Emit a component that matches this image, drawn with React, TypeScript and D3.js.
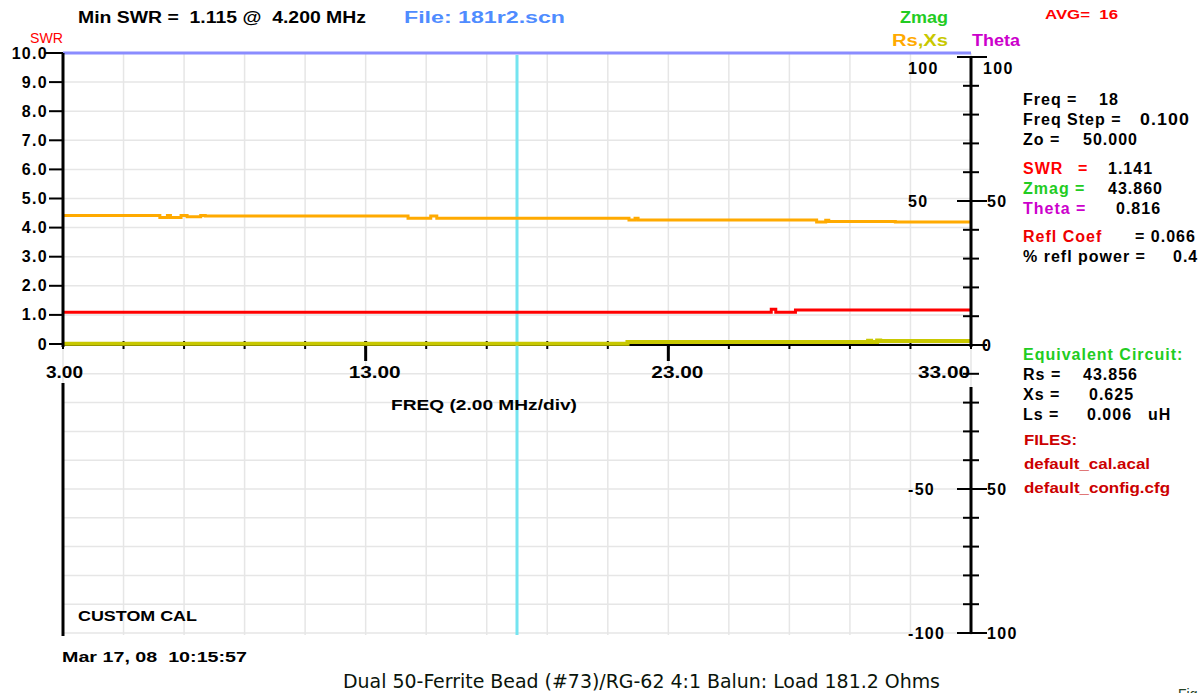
import React from "react";
import * as d3 from "d3";

// ---------- data ----------
// Rs (orange) step series: frequency (MHz) and value (ohms)
const rsFreq = [3.0, 6.2, 6.45, 6.55, 6.9, 7.1, 7.55, 7.7, 14.4, 15.15, 15.35, 21.7, 21.9, 22.0, 27.9, 28.2, 28.3, 30.5, 33.0];
const rsVal = [45.0, 44.3, 45.0, 44.3, 45.0, 44.5, 45.0, 44.8, 44.0, 44.8, 44.0, 43.4, 44.0, 43.4, 42.7, 43.3, 42.9, 42.7, 42.7];

// Xs (yellow) step series
const xsFreq = [3.0, 21.65, 29.6, 29.7, 29.9, 30.0, 33.0];
const xsVal = [0.4, 1.0, 1.5, 1.0, 1.6, 1.4, 1.4];

// SWR (red) step series
const swrFreq = [3.0, 26.4, 26.55, 27.2, 33.0];
const swrVal = [1.09, 1.19, 1.09, 1.17, 1.17];

// Upper trace (blue) pinned at top of SWR scale
const topFreq = [3.0, 33.0];
const topVal = [10.0, 10.0];

const cursorFreq = 18;

const swrTickVals = [0, 1, 2, 3, 4, 5, 6, 7, 8, 9, 10];
const swrTickLabels = ["0", "1.0", "2.0", "3.0", "4.0", "5.0", "6.0", "7.0", "8.0", "9.0", "10.0"];
const xLabelFreqs = [3, 13, 23, 33];
const xLabels = ["3.00", "13.00", "23.00", "33.00"];
const ohmMajor = [100, 50, 0, -50, -100];
const innerLabels = ["100", "50", "", "-50", "-100"];
const outerLabels = ["100", "50", "0", "50", "100"];

// ---------- layout ----------
const W = 1204, H = 693;
const X0 = 63, X1 = 971;
const x = d3.scaleLinear().domain([3, 33]).range([X0, X1]);
const ySwr = d3.scaleLinear().domain([0, 10]).range([344, 53]);
const yOhm = d3.scaleLinear().domain([-100, 100]).range([633, 57]);

const F = "'Liberation Sans', Arial, sans-serif";

function zip(a: number[], b: number[]) {
  return a.map((f, i) => [f, b[i]] as [number, number]);
}

export default function App() {
  const lineOhm = d3.line<[number, number]>().x(d => x(d[0])).y(d => yOhm(d[1])).curve(d3.curveStepAfter);
  const lineSwr = d3.line<[number, number]>().x(d => x(d[0])).y(d => ySwr(d[1])).curve(d3.curveStepAfter);

  const gridX = d3.range(3, 33.001, 2);
  const gridY = d3.range(-100, 100.001, 10);
  const ohmMinor = d3.range(-90, 90.001, 10).filter(v => v % 50 !== 0);

  const bold = { fontFamily: F, fontWeight: 700 as const, whiteSpace: "pre" as const };
  const fit = (n: number) => ({ textLength: n, lengthAdjust: "spacingAndGlyphs" as const });

  return (
    <svg width={W} height={H} style={{ position: "absolute", left: 0, top: 0, background: "#fff" }}>
      {/* grid */}
      <g stroke="#e6e6e6" strokeWidth={1.5}>
        {gridX.map(f => (
          <line key={"gx" + f} x1={x(f)} x2={x(f)} y1={53} y2={635} />
        ))}
        {swrTickVals.map(v => (
          <line key={"gs" + v} x1={X0} x2={X1} y1={ySwr(v)} y2={ySwr(v)} />
        ))}
        {gridY.filter(v => v < 0).map(v => (
          <line key={"go" + v} x1={X0} x2={X1} y1={yOhm(v)} y2={yOhm(v)} />
        ))}
      </g>

      {/* x axis */}
      <line x1={X0} x2={X1} y1={345} y2={345} stroke="#000" strokeWidth={2} />
      {gridX.map(f => (
        <line key={"xt" + f} x1={x(f)} x2={x(f)} y1={341} y2={349} stroke="#000" strokeWidth={2} />
      ))}
      {[13, 23].map(f => (
        <line key={"xm" + f} x1={x(f)} x2={x(f)} y1={341} y2={361} stroke="#000" strokeWidth={3} />
      ))}

      {/* cursor */}
      <line x1={x(cursorFreq)} x2={x(cursorFreq)} y1={55} y2={635} stroke="#74e4f0" strokeWidth={3} />

      {/* traces */}
      <path d={lineSwr(zip(topFreq, topVal)) || ""} fill="none" stroke="#8a8cff" strokeWidth={3} />
      <path d={lineOhm(zip(rsFreq, rsVal)) || ""} fill="none" stroke="#ffaa00" strokeWidth={3} />
      <path d={lineSwr(zip(swrFreq, swrVal)) || ""} fill="none" stroke="#ff0000" strokeWidth={3} />
      <path d={lineOhm(zip(xsFreq, xsVal)) || ""} fill="none" stroke="#c8c800" strokeWidth={4} />

      {/* left axis */}
      <line x1={X0} x2={X0} y1={53} y2={347} stroke="#000" strokeWidth={3} />
      <line x1={X0} x2={X0} y1={383} y2={636} stroke="#000" strokeWidth={3} />
      {swrTickVals.map((v, i) => (
        <g key={"st" + v}>
          <line x1={v === 10 ? 45 : 49} x2={X0} y1={ySwr(v)} y2={ySwr(v)} stroke="#000" strokeWidth={2} />
          <text x={v === 10 ? 48 : 48} y={ySwr(v)} textAnchor="end" dominantBaseline="central" fontSize={16} letterSpacing={1.3} style={bold}>
            {swrTickLabels[i]}
          </text>
        </g>
      ))}

      {/* right axis */}
      <line x1={X1} x2={X1} y1={57} y2={347} stroke="#000" strokeWidth={3} />
      <line x1={X1} x2={X1} y1={387} y2={634} stroke="#000" strokeWidth={3} />
      {ohmMinor.map(v => (
        <line key={"om" + v} x1={X1 - 8} x2={X1 + 8} y1={yOhm(v)} y2={yOhm(v)} stroke="#000" strokeWidth={2} />
      ))}
      {ohmMajor.map((v, i) => (
        <g key={"oM" + v}>
          <line x1={X1 - 14} x2={X1 + 16} y1={yOhm(v)} y2={yOhm(v)} stroke="#000" strokeWidth={2} />
          <text x={908} y={v === 100 ? 68 : yOhm(v)} dominantBaseline="central" fontSize={16} letterSpacing={1.3} style={bold}>
            {innerLabels[i]}
          </text>
          <text x={v === 0 ? 982 : v === 100 ? 983 : 987} y={v === 100 ? 68 : yOhm(v)} dominantBaseline="central" fontSize={16} letterSpacing={1.3} style={bold}>
            {outerLabels[i]}
          </text>
        </g>
      ))}

      {/* x labels */}
      {xLabelFreqs.map((f, i) => (
        <text key={"xl" + f} x={i === 3 ? 970 : x(f) - 17} y={372} textAnchor={i === 3 ? "end" : "start"} dominantBaseline="central" fontSize={16}
          style={bold} {...fit(i === 0 ? 37 : 52)}>
          {xLabels[i]}
        </text>
      ))}
      <text x={391} y={404} dominantBaseline="central" fontSize={15} style={bold} {...fit(186)}>FREQ (2.00 MHz/div)</text>

      {/* header */}
      <text x={78} y={17} dominantBaseline="central" fontSize={16} style={bold} {...fit(288)}>{"Min SWR =  1.115 @  4.200 MHz"}</text>
      <text x={404} y={17} dominantBaseline="central" fontSize={16} style={bold} fill="#4f8cff" {...fit(161)}>{"File: 181r2.scn"}</text>
      <text x={30} y={37} dominantBaseline="central" fontSize={15} style={{ ...bold, fontWeight: 400 }} fill="#ff0000" {...fit(33)}>SWR</text>
      <text x={900} y={17} dominantBaseline="central" fontSize={16} style={bold} fill="#22cc22" {...fit(48)}>Zmag</text>
      <text x={892} y={40} dominantBaseline="central" fontSize={16} style={bold} {...fit(56)}>
        <tspan fill="#ffaa00">Rs</tspan>
        <tspan fill="#c8c800">,Xs</tspan>
      </text>
      <text x={972} y={40} dominantBaseline="central" fontSize={16} style={bold} fill="#cc00cc" {...fit(48)}>Theta</text>
      <text x={1045} y={14} dominantBaseline="central" fontSize={13} style={bold} fill="#ff0000" {...fit(73)}>{"AVG=  16"}</text>

      {/* right info panel */}
      <g fontSize={16} letterSpacing={1} style={bold}>
        <text x={1023} y={99} dominantBaseline="central">Freq =</text>
        <text x={1099} y={99} dominantBaseline="central">18</text>
        <text x={1023} y={119} dominantBaseline="central">Freq Step =</text>
        <text x={1140} y={119} dominantBaseline="central" {...fit(50)}>0.100</text>
        <text x={1023} y={139} dominantBaseline="central">Zo =</text>
        <text x={1083} y={139} dominantBaseline="central">50.000</text>

        <text x={1023} y={168} dominantBaseline="central" fill="#ff0000">SWR</text>
        <text x={1078} y={168} dominantBaseline="central" fill="#ff0000">=</text>
        <text x={1108} y={168} dominantBaseline="central">1.141</text>
        <text x={1023} y={188} dominantBaseline="central" fill="#22cc22">Zmag =</text>
        <text x={1108} y={188} dominantBaseline="central">43.860</text>
        <text x={1023} y={208} dominantBaseline="central" fill="#cc00cc">Theta =</text>
        <text x={1116} y={208} dominantBaseline="central">0.816</text>

        <text x={1023} y={236} dominantBaseline="central" fill="#ee0000">Refl Coef</text>
        <text x={1135} y={236} dominantBaseline="central">= 0.066</text>
        <text x={1023} y={256} dominantBaseline="central">% refl power =</text>
        <text x={1173} y={256} dominantBaseline="central">0.4</text>

        <text x={1023} y={354} dominantBaseline="central" fill="#22cc22">Equivalent Circuit:</text>
        <text x={1023} y={374} dominantBaseline="central">Rs =</text>
        <text x={1083} y={374} dominantBaseline="central">43.856</text>
        <text x={1023} y={394} dominantBaseline="central">Xs =</text>
        <text x={1089} y={394} dominantBaseline="central">0.625</text>
        <text x={1023} y={414} dominantBaseline="central">Ls =</text>
        <text x={1087} y={414} dominantBaseline="central">0.006</text>
        <text x={1148} y={414} dominantBaseline="central">uH</text>
      </g>
      <g fontSize={14} style={bold} fill="#cc0000">
        <text x={1024} y={440} dominantBaseline="central" {...fit(53)}>FILES:</text>
        <text x={1024} y={464} dominantBaseline="central" {...fit(126)}>default_cal.acal</text>
        <text x={1024} y={488} dominantBaseline="central" {...fit(146)}>default_config.cfg</text>
      </g>

      {/* bottom */}
      <text x={78} y={615} dominantBaseline="central" fontSize={15} style={bold} {...fit(119)}>CUSTOM CAL</text>
      <text x={62} y={656} dominantBaseline="central" fontSize={15} style={bold} {...fit(185)}>{"Mar 17, 08  10:15:57"}</text>
      <text x={343} y={681} dominantBaseline="central" fontSize={20} textLength={597} lengthAdjust="spacingAndGlyphs"
        style={{ fontFamily: "'Liberation Sans Narrow', 'DejaVu Sans Condensed', 'Liberation Sans', sans-serif", whiteSpace: "pre" }} fill="#0a140a">
        Dual 50-Ferrite Bead (#73)/RG-62 4:1 Balun: Load 181.2 Ohms
      </text>
      <text x={1178} y={699} fontSize={14} style={{ fontFamily: F }} fill="#234023">Fig</text>
    </svg>
  );
}
